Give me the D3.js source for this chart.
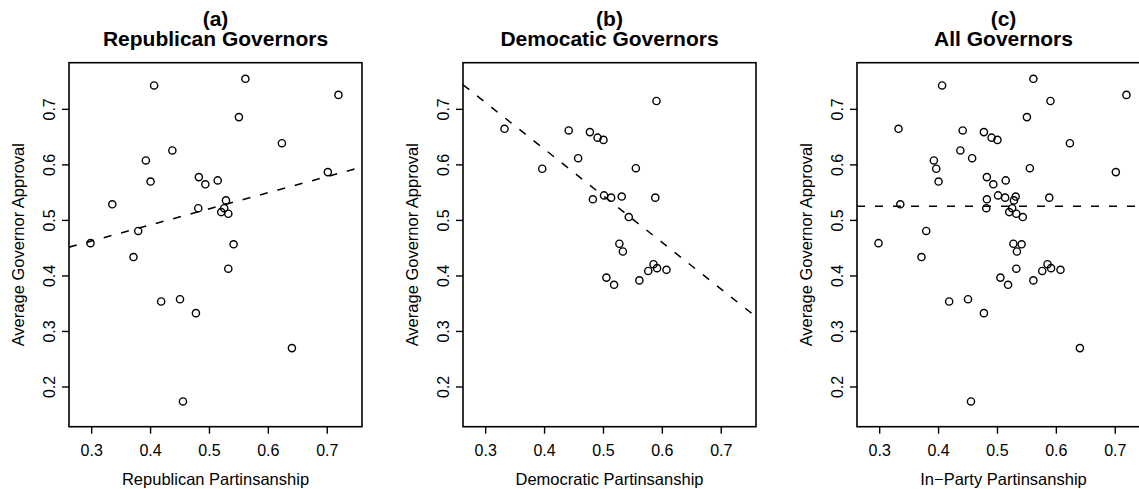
<!DOCTYPE html>
<html>
<head>
<meta charset="utf-8">
<script src="https://cdn.jsdelivr.net/npm/d3@7"></script>
<style>
  body { margin: 0; background: #fff; }
  svg { font-family: "Liberation Sans", Arial, Helvetica, sans-serif; }
</style>
</head>
<body>
<svg width="1139" height="489"></svg>
<script>
// Republican governors: partisanship, approval
var repX = [0.406, 0.561, 0.719, 0.550, 0.437, 0.623, 0.392, 0.400, 0.482, 0.493,
            0.514, 0.701, 0.335, 0.481, 0.528, 0.525, 0.520, 0.532, 0.379, 0.298,
            0.371, 0.541, 0.532, 0.418, 0.450, 0.477, 0.640, 0.455];
var repY = [0.743, 0.755, 0.726, 0.686, 0.626, 0.639, 0.608, 0.570, 0.578, 0.565,
            0.572, 0.587, 0.529, 0.522, 0.536, 0.522, 0.515, 0.512, 0.481, 0.459,
            0.434, 0.457, 0.413, 0.354, 0.358, 0.333, 0.270, 0.174];

// Democratic governors
var demX = [0.590, 0.332, 0.441, 0.477, 0.490, 0.500, 0.457, 0.396, 0.555, 0.501,
            0.482, 0.513, 0.531, 0.588, 0.543, 0.527, 0.533, 0.585, 0.576, 0.591,
            0.607, 0.505, 0.518, 0.561];
var demY = [0.715, 0.665, 0.662, 0.659, 0.649, 0.645, 0.612, 0.593, 0.594, 0.545,
            0.538, 0.541, 0.543, 0.541, 0.506, 0.458, 0.444, 0.421, 0.409, 0.414,
            0.411, 0.397, 0.384, 0.392];

// fitted lines (intercept, slope)
var fitRep = [0.376, 0.290];
var fitDem = [0.964, -0.840];
var fitAll = [0.5255, 0];

var titles = ["(a)", "(b)", "(c)"];
var subtitles = ["Republican Governors", "Democatic Governors", "All Governors"];
var xLabels = ["Republican Partinsanship", "Democratic Partinsanship", "In\u2212Party Partinsanship"];
var yLabel = "Average Governor Approval";
var xTicks = [0.3, 0.4, 0.5, 0.6, 0.7];
var yTicks = [0.2, 0.3, 0.4, 0.5, 0.6, 0.7];

var panels = [
  {x: repX, y: repY, fit: fitRep},
  {x: demX, y: demY, fit: fitDem},
  {x: repX.concat(demX), y: repY.concat(demY), fit: fitAll}
];

var svg = d3.select("svg");
var plotTop = 62.7, plotBottom = 426.7, w = 293, step = 394, left0 = 69;

var xs = d3.scaleLinear().domain([0.2615, 0.759]).range([0, w]);
var ys = d3.scaleLinear().domain([0.1285, 0.784]).range([plotBottom, plotTop]);

panels.forEach(function(p, i) {
  var left = left0 + i * step;
  var g = svg.append("g").attr("transform", "translate(" + left + ",0)");
  var cx = w / 2;

  // titles
  g.append("text").attr("x", cx).attr("y", 25.5).attr("text-anchor", "middle")
    .style("font-weight", "bold").style("font-size", "21px").text(titles[i]);
  g.append("text").attr("x", cx).attr("y", 45.5).attr("text-anchor", "middle")
    .style("font-weight", "bold").style("font-size", "21px").text(subtitles[i]);

  // clip for the regression line
  g.append("clipPath").attr("id", "clip" + i).append("rect")
    .attr("x", 0).attr("y", plotTop).attr("width", w).attr("height", plotBottom - plotTop);

  var pts = p.x.map(function(d, j) { return [d, p.y[j]]; });
  g.selectAll("circle").data(pts).enter().append("circle")
    .attr("cx", function(d) { return xs(d[0]); })
    .attr("cy", function(d) { return ys(d[1]); })
    .attr("r", 3.6)
    .style("fill", "none").style("stroke", "#000").style("stroke-width", 1.4);

  var xd = xs.domain();
  g.append("line")
    .attr("clip-path", "url(#clip" + i + ")")
    .attr("x1", xs(xd[0])).attr("y1", ys(p.fit[0] + p.fit[1] * xd[0]))
    .attr("x2", xs(xd[1])).attr("y2", ys(p.fit[0] + p.fit[1] * xd[1]))
    .style("stroke", "#000").style("stroke-width", 1.5)
    .style("stroke-dasharray", "8,10");

  // box
  g.append("rect").attr("x", 0).attr("y", plotTop).attr("width", w).attr("height", plotBottom - plotTop)
    .style("fill", "none").style("stroke", "#000").style("stroke-width", 1.6);

  // x axis ticks
  g.selectAll(".xt").data(xTicks).enter().append("line")
    .attr("x1", function(d) { return xs(d); }).attr("x2", function(d) { return xs(d); })
    .attr("y1", plotBottom).attr("y2", plotBottom + 7)
    .style("stroke", "#000").style("stroke-width", 1.4);
  g.selectAll(".xl").data(xTicks).enter().append("text")
    .attr("x", function(d) { return xs(d); }).attr("y", 456)
    .attr("text-anchor", "middle").style("font-size", "16px")
    .text(function(d) { return d3.format(".1f")(d); });

  // y axis ticks
  g.selectAll(".yt").data(yTicks).enter().append("line")
    .attr("x1", 0).attr("x2", -7)
    .attr("y1", function(d) { return ys(d); }).attr("y2", function(d) { return ys(d); })
    .style("stroke", "#000").style("stroke-width", 1.4);
  g.selectAll(".yl").data(yTicks).enter().append("text")
    .attr("transform", function(d) { return "translate(-14," + ys(d) + ") rotate(-90)"; })
    .attr("text-anchor", "middle").style("font-size", "16px")
    .text(function(d) { return d3.format(".1f")(d); });

  // axis labels
  g.append("text").attr("x", cx).attr("y", 485).attr("text-anchor", "middle")
    .style("font-size", "16.5px").text(xLabels[i]);
  g.append("text").attr("transform", "translate(-45," + ((plotTop + plotBottom) / 2) + ") rotate(-90)")
    .attr("text-anchor", "middle").style("font-size", "16.5px").text(yLabel);
});
</script>
</body>
</html>
